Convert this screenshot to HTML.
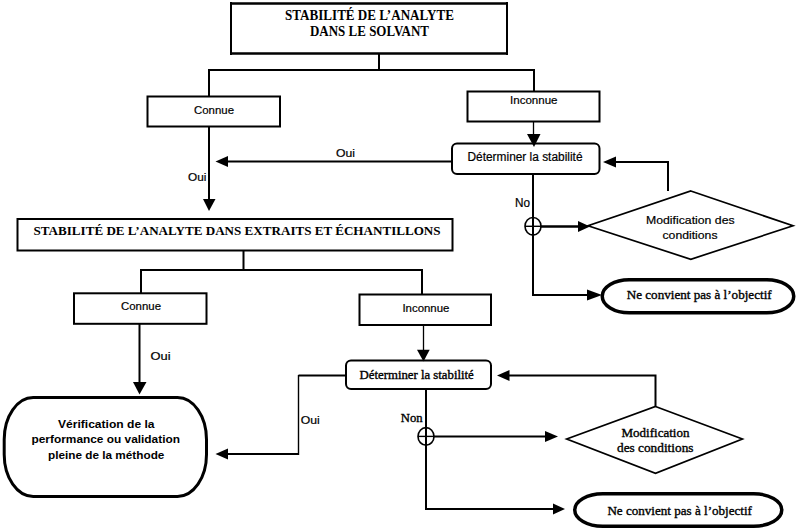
<!DOCTYPE html>
<html><head><meta charset="utf-8">
<style>
html,body{margin:0;padding:0;background:#fff;width:800px;height:530px;overflow:hidden}
svg{display:block}
.s{font-family:"Liberation Sans",sans-serif}
.r{font-family:"Liberation Serif",serif}
</style></head>
<body>
<svg width="800" height="530" viewBox="0 0 800 530">
<g fill="none" stroke="#000" stroke-width="2">
  <!-- top title box -->
  <path d="M230 3.5H508M230 53.5H508" stroke-width="2.5"/>
  <path d="M231 2V55M507 2V55" stroke-width="2"/>
  <!-- connectors top -->
  <path d="M379 54V70M208 70H535M209 69V96M534 69V91"/>
  <!-- Connue 1 -->
  <rect x="147.5" y="96.5" width="132.5" height="30"/>
  <!-- Inconnue 1 -->
  <rect x="467.5" y="91.5" width="132" height="30"/>
  <!-- arrow Inconnue1 -> Determiner1 -->
  <path d="M533.5 121V135" stroke-width="1.3"/>
  <!-- Determiner 1 -->
  <rect x="452" y="143.5" width="147.5" height="30.5" rx="5"/>
  <!-- Oui line left -->
  <path d="M451 161.5H226"/>
  <!-- vertical Connue1 -> wide box -->
  <path d="M209 127V200"/>
  <!-- wide box -->
  <rect x="17.5" y="219" width="435" height="31.5"/>
  <!-- connectors mid -->
  <path d="M243.5 251V270M140 270H423M141 269V293M422 269V294"/>
  <!-- Connue 2 -->
  <rect x="74" y="293.3" width="132.5" height="30.5"/>
  <!-- Inconnue 2 -->
  <rect x="359.5" y="294.5" width="131.5" height="30.5"/>
  <path d="M423.5 325V350" stroke-width="1.3"/>
  <!-- Determiner 2 -->
  <rect x="346" y="360.5" width="145" height="28.5" rx="5"/>
  <!-- loop 1 -->
  <path d="M668 191V162H615"/>
  <path d="M533 175V295H590"/>
  <ellipse cx="533" cy="226.3" rx="8" ry="8.8" stroke-width="1.6"/>
  <path d="M525 226.3H541" stroke-width="1.4"/>
  <path d="M541 226.5H580" stroke-width="2.6"/>
  <polygon points="690.8,191 793,225.8 690.8,259.3 588,225.8" stroke-width="1.7"/>
  <!-- stadium 1 -->
  <rect x="602.25" y="279.75" width="191.5" height="33" rx="27" ry="16.5" stroke-width="3.5"/>
  <!-- big stadium -->
  <rect x="4.2" y="397.5" width="202.3" height="99" rx="29" ry="42" stroke-width="3"/>
  <!-- arrow Connue 2 down -->
  <path d="M139.5 324V383"/>
  <!-- Determiner 2 left loop -->
  <path d="M346 375.5H298.5M299 454H226"/>
  <path d="M298.5 375V455" stroke-width="1.4"/>
  <!-- Determiner 2 down -->
  <path d="M426 389V509H554"/>
  <ellipse cx="426" cy="436.4" rx="8" ry="8.8" stroke-width="1.6"/>
  <path d="M418 436.4H434" stroke-width="1.4"/>
  <path d="M434 436.5H547"/>
  <polygon points="655.5,406.5 742.4,439 655.5,473.4 566.7,439" stroke-width="1.7"/>
  <path d="M655.5 406.5V375.5H508"/>
  <!-- stadium 2 -->
  <rect x="574.75" y="493.75" width="207" height="32.5" rx="28" ry="16.25" stroke-width="3.5"/>
</g>
<g fill="#000" stroke="none">
  <!-- arrowheads -->
  <polygon points="527,134 540.5,134 534,147"/>
  <polygon points="215.5,161.5 228,156 228,167"/>
  <polygon points="203,199 215.5,199 209,211"/>
  <polygon points="603,162 616,156.5 616,167.5"/>
  <polygon points="590,226.5 578,221 578,232"/>
  <polygon points="602,295 587,289.5 587,300.5"/>
  <polygon points="417,349.7 429.7,349.7 423.5,361.5"/>
  <polygon points="133,382 146.5,382 139.5,394.5"/>
  <polygon points="215.5,454 228,448.5 228,459.5"/>
  <polygon points="558,436.5 545,431 545,442"/>
  <polygon points="565,509 553,503.5 553,514.5"/>
  <polygon points="497,375.5 509.5,370 509.5,381"/>
</g>
<g fill="#000" stroke="#000" stroke-width="0">
  <text class="r" font-weight="bold" font-size="14" x="285" y="19.7" textLength="169" lengthAdjust="spacingAndGlyphs">STABILITÉ DE L’ANALYTE</text>
  <text class="r" font-weight="bold" font-size="14" x="310" y="35.6" textLength="119" lengthAdjust="spacingAndGlyphs">DANS LE SOLVANT</text>
  <text stroke-width="0.2" class="s" font-size="11.5" x="194" y="113.6" textLength="40" lengthAdjust="spacingAndGlyphs">Connue</text>
  <text stroke-width="0.2" class="s" font-size="11.5" x="510" y="104" textLength="47.5" lengthAdjust="spacingAndGlyphs">Inconnue</text>
  <text stroke-width="0.2" class="s" font-size="12" x="467.5" y="161" textLength="115" lengthAdjust="spacingAndGlyphs">Déterminer la stabilité</text>
  <text stroke-width="0.2" class="s" font-size="11" x="336" y="156.7" textLength="19" lengthAdjust="spacingAndGlyphs">Oui</text>
  <text stroke-width="0.2" class="s" font-size="11" x="188" y="180.8" textLength="18.4" lengthAdjust="spacingAndGlyphs">Oui</text>
  <text class="r" font-weight="bold" font-size="13" x="33.6" y="235.4" textLength="407" lengthAdjust="spacingAndGlyphs">STABILITÉ DE L’ANALYTE DANS EXTRAITS ET ÉCHANTILLONS</text>
  <text stroke-width="0.2" class="s" font-size="12" x="515" y="206.8" textLength="15" lengthAdjust="spacingAndGlyphs">No</text>
  <text stroke-width="0.2" class="s" font-size="11.5" x="646" y="224" textLength="88.6" lengthAdjust="spacingAndGlyphs">Modification des</text>
  <text stroke-width="0.2" class="s" font-size="11.5" x="662.5" y="239" textLength="55" lengthAdjust="spacingAndGlyphs">conditions</text>
  <text stroke-width="0.35" class="r" font-size="12.5" x="626.7" y="298.6" textLength="145" lengthAdjust="spacingAndGlyphs">Ne convient pas à l’objectif</text>
  <text stroke-width="0.2" class="s" font-size="11.5" x="121" y="310" textLength="40" lengthAdjust="spacingAndGlyphs">Connue</text>
  <text stroke-width="0.2" class="s" font-size="11.5" x="402.4" y="311.5" textLength="47" lengthAdjust="spacingAndGlyphs">Inconnue</text>
  <text stroke-width="0.35" class="r" font-size="12" x="359.6" y="378.6" textLength="114.2" lengthAdjust="spacingAndGlyphs">Déterminer la stabilité</text>
  <text stroke-width="0.2" class="s" font-size="11" x="150.5" y="359.7" textLength="20" lengthAdjust="spacingAndGlyphs">Oui</text>
  <text stroke-width="0.2" class="s" font-size="11" x="300.7" y="424.3" textLength="19" lengthAdjust="spacingAndGlyphs">Oui</text>
  <text stroke-width="0.35" class="r" font-size="12" x="400.8" y="421.7" textLength="21.8" lengthAdjust="spacingAndGlyphs">Non</text>
  <text class="s" font-weight="bold" font-size="11" x="58" y="428" textLength="96.5" lengthAdjust="spacingAndGlyphs">Vérification de la</text>
  <text class="s" font-weight="bold" font-size="11" x="31.5" y="443.4" textLength="148.5" lengthAdjust="spacingAndGlyphs">performance ou validation</text>
  <text class="s" font-weight="bold" font-size="11" x="48" y="459" textLength="116.4" lengthAdjust="spacingAndGlyphs">pleine de la méthode</text>
  <text stroke-width="0.35" class="r" font-size="12" x="621.5" y="437.4" textLength="68" lengthAdjust="spacingAndGlyphs">Modification</text>
  <text stroke-width="0.35" class="r" font-size="12" x="617" y="452.4" textLength="76.5" lengthAdjust="spacingAndGlyphs">des conditions</text>
  <text stroke-width="0.35" class="r" font-size="12.5" x="607.4" y="515.4" textLength="144.6" lengthAdjust="spacingAndGlyphs">Ne convient pas à l’objectif</text>
</g>
</svg>
</body></html>
